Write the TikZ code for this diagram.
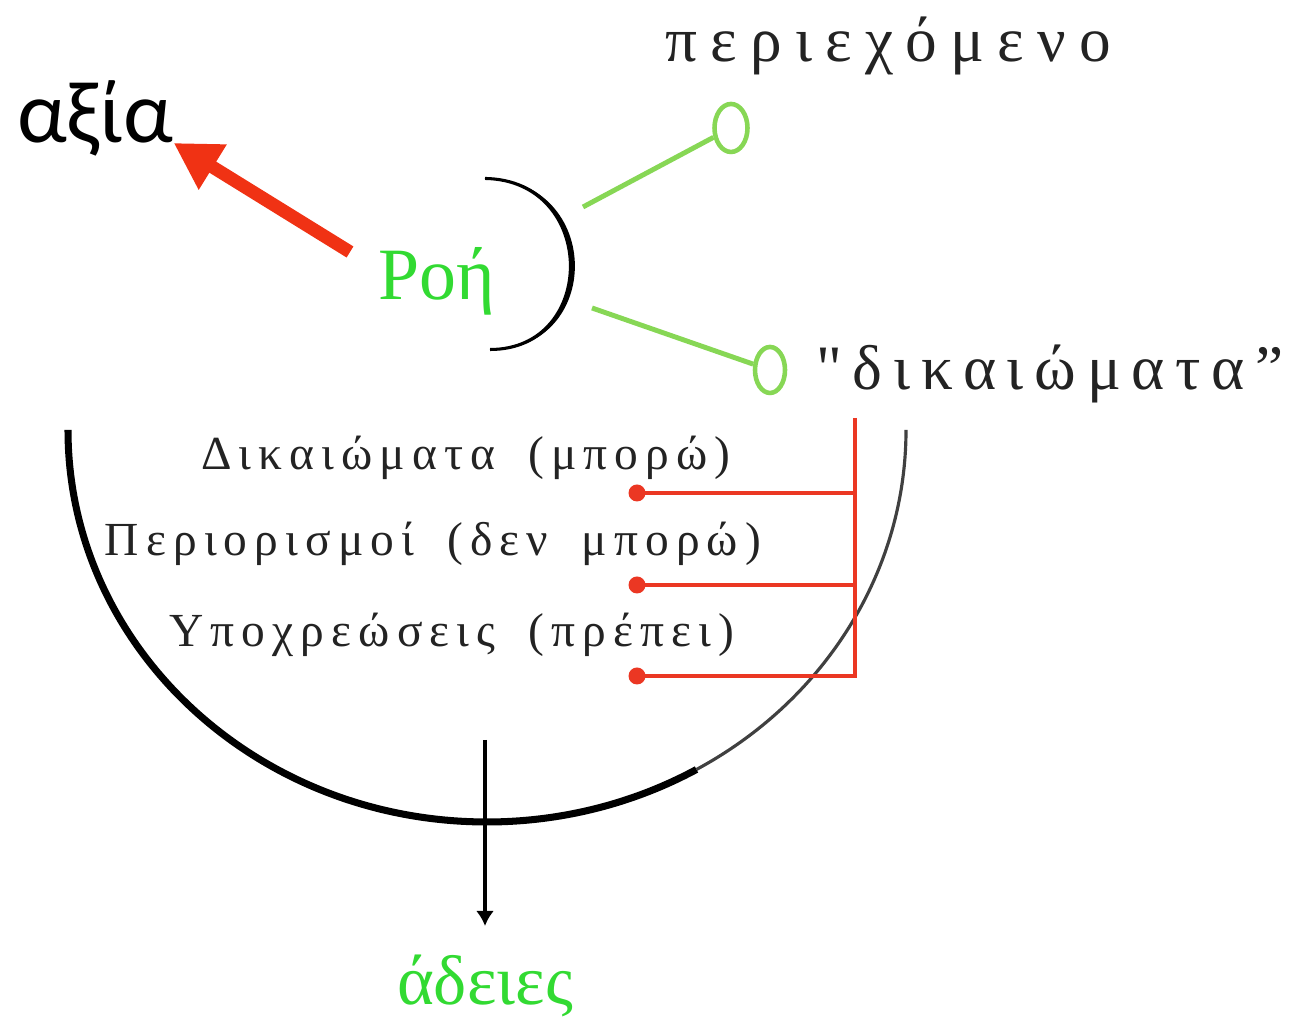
\documentclass[tikz,border=0pt]{standalone}
\usepackage{fontspec}
\usetikzlibrary{arrows.meta,shapes.geometric}
\newfontfamily\sansgr{Carlito}
\newfontfamily\serifgr{Liberation Serif}
\newfontfamily\spacedbig[LetterSpace=21]{Liberation Serif}
\newfontfamily\spacedmid[LetterSpace=17]{Liberation Serif}
\newfontfamily\spacedsmall[LetterSpace=15]{Liberation Serif}
\newcommand{\wsp}{\ \hspace{0.3em}}
\definecolor{arrowred}{RGB}{240,50,20}
\definecolor{brred}{RGB}{235,55,35}
\definecolor{txtgreen}{RGB}{50,218,50}
\definecolor{lngreen}{RGB}{135,215,85}
\definecolor{monotxt}{RGB}{35,35,35}
\tikzset{
  bigsans/.style={font=\sansgr\fontsize{25}{28}\selectfont, inner sep=0pt, anchor=base},
  greenlabel/.style={font=\serifgr\fontsize{21}{24}\selectfont, text=txtgreen, inner sep=0pt, anchor=base},
  monobig/.style={font=\spacedbig\fontsize{18}{21}\selectfont, text=monotxt, inner sep=0pt, anchor=base},
  monomid/.style={font=\spacedmid\fontsize{18}{21}\selectfont, text=monotxt, inner sep=0pt, anchor=base},
  monosmall/.style={font=\spacedsmall\fontsize{13.5}{16}\selectfont, text=monotxt, inner sep=0pt, anchor=base},
  redarrow/.style={draw=arrowred, line width=3.7pt, -{Triangle[length=4.6mm,width=5mm]}},
  greenline/.style={draw=lngreen, line width=1.4pt},
  greenring/.style={draw=lngreen, ellipse, line width=1.3pt, inner sep=0pt},
  bracketline/.style={draw=brred, line width=1.1pt},
  reddot/.style={circle, fill=brred, inner sep=0pt, minimum size=0.17cm},
  blackline/.style={draw=black, line width=0.9pt, -{Latex[length=1.5mm,width=1.8mm]}}
}
\begin{document}
\begin{tikzpicture}
\useasboundingbox (0,0) rectangle (12.96,10.29);

% texts
\node[bigsans] (axia) at (0.95,8.86) {αξία};
\node[greenlabel] (roh) at (4.37,7.29) {Ροή};
\node[monobig] (periex) at (8.88,9.67) {περιεχόμενο};
\node[monomid] (dikaiom) at (10.50,6.39) {"δικαιώματα”};
\node[monosmall] (t1) at (4.66,5.59) {Δικαιώματα\wsp(μπορώ)};
\node[monosmall] (t2) at (4.33,4.73) {Περιορισμοί\wsp(δεν\wsp μπορώ)};
\node[monosmall] (t3) at (4.52,3.82) {Υποχρεώσεις\wsp(πρέπει)};
\node[font=\serifgr\fontsize{20}{24}\selectfont, text=txtgreen, inner sep=0pt, anchor=base] (adeies) at (4.85,0.24) {άδειες};

% red arrow to αξία
\coordinate (rstart) at (3.50,7.77);
\draw[redarrow] (rstart) -- (axia.base east);

% small bracket arc around Ροή
\fill[black] (4.85,8.51) .. controls (6.04,8.49) and (6.04,6.79) .. (4.90,6.79)
  -- (4.90,6.81) .. controls (5.96,6.81) and (5.96,8.47) .. (4.85,8.49) -- cycle;
\draw[black, line width=0.6pt] (4.85,8.51) .. controls (6.00,8.49) and (6.00,6.79) .. (4.90,6.79);

% green connectors with rings
\node[greenring, minimum width=0.33cm, minimum height=0.48cm] (ring1) at (7.31,9.01) {};
\node[greenring, minimum width=0.30cm, minimum height=0.46cm] (ring2) at (7.70,6.59) {};
\coordinate (g1) at (5.83,8.22);
\coordinate (g2) at (5.92,7.21);
\draw[greenline] (g1) -- (ring1);
\draw[greenline] (g2) -- (ring2);

% big bowl
\draw[black, line width=2pt] (0.68,5.99) arc[start angle=180, end angle=300, x radius=4.19, y radius=3.92];
\draw[black!75, line width=0.9pt] (4.87,5.99) ++(300:4.19 and 3.92) arc[start angle=300, end angle=360, x radius=4.19, y radius=3.92];

% red bracket
\node[reddot] (d1) at (6.37,5.36) {};
\node[reddot] (d2) at (6.37,4.44) {};
\node[reddot] (d3) at (6.37,3.53) {};
\coordinate (btop) at (8.55,6.11);
\coordinate (b1) at (8.55,5.36);
\coordinate (b2) at (8.55,4.44);
\coordinate (b3) at (8.55,3.53);
\draw[bracketline] (btop) -- (b3) -- (d3.center);
\draw[bracketline] (b1) -- (d1.center);
\draw[bracketline] (b2) -- (d2.center);

% vertical line down to άδειες
\coordinate (vtop) at (4.85,2.89);
\coordinate (vend) at (4.85,1.03);
\draw[blackline] (vtop) -- (vend);
\end{tikzpicture}
\end{document}
